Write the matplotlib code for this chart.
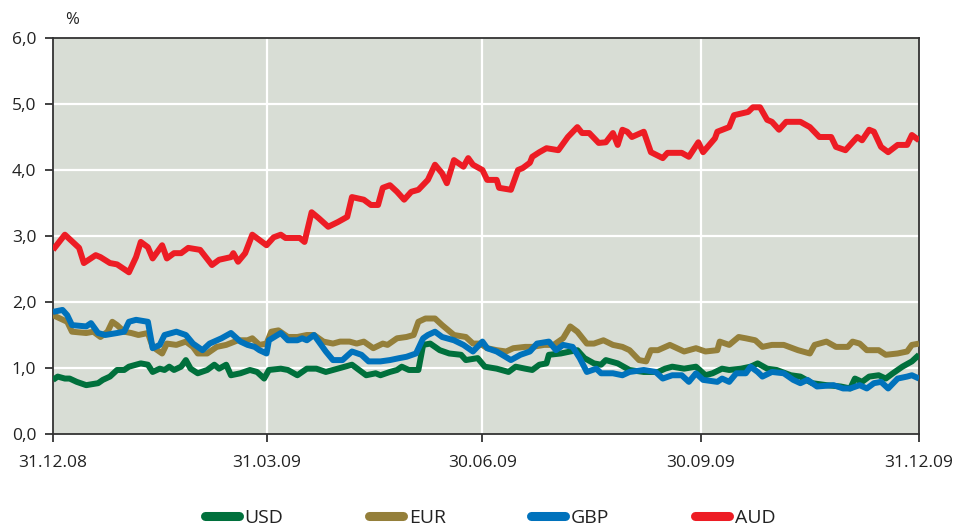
import numpy as np
import matplotlib
matplotlib.use("Agg")
import matplotlib.pyplot as plt

plt.rcParams['font.family'] = ['Open Sans', 'DejaVu Sans']

# ---- data (days after 31.12.2008, yields in %) ----
start = np.datetime64('2008-12-31')

usd_days = [0,2,5,7,10,14,19,21,24,27,30,32,37,40,42,45,47,49,51,54,56,58,61,65,68,70,73,75,79,83,
            86,89,91,96,99,103,107,111,115,120,126,132,136,138,142,145,147,150,154,156,159,163,167,172,
            174,179,182,187,192,195,199,202,205,208,209,214,218,221,224,228,231,233,238,243,249,255,258,
            261,266,271,275,278,282,285,290,294,297,301,305,311,315,320,326,332,336,338,341,344,348,351,
            354,358,362,365]
usd_vals = [0.82,0.87,0.84,0.84,0.79,0.74,0.77,0.82,0.87,0.97,0.97,1.02,1.07,1.05,0.94,0.99,0.97,1.02,
            0.97,1.02,1.12,0.99,0.92,0.97,1.05,0.99,1.05,0.89,0.92,0.97,0.94,0.84,0.97,0.99,0.97,0.89,
            0.99,0.99,0.94,0.99,1.05,0.89,0.92,0.89,0.94,0.97,1.02,0.97,0.97,1.35,1.37,1.27,1.22,1.20,
            1.12,1.15,1.02,0.99,0.94,1.02,0.99,0.97,1.05,1.07,1.20,1.22,1.25,1.27,1.15,1.07,1.05,1.12,
            1.07,0.97,0.94,0.94,0.99,1.02,0.99,1.02,0.89,0.92,0.99,0.97,0.99,1.02,1.07,0.99,0.97,0.89,
            0.87,0.77,0.74,0.72,0.69,0.84,0.79,0.87,0.89,0.84,0.92,1.02,1.10,1.20]

eur_days = [0,3,6,8,14,17,20,23,25,27,30,33,36,40,42,46,48,52,56,59,61,65,69,73,78,82,84,87,90,92,
            95,99,103,107,110,114,118,121,125,128,131,135,139,141,145,149,152,154,157,161,164,169,174,
            177,180,183,187,191,194,199,202,207,211,215,218,221,225,228,232,236,240,243,247,250,252,255,
            260,266,271,275,280,281,285,289,292,296,299,303,308,314,319,321,326,330,335,337,340,343,348,
            351,356,360,362,365]
eur_vals = [1.80,1.75,1.70,1.55,1.53,1.55,1.47,1.55,1.70,1.65,1.55,1.53,1.50,1.53,1.32,1.22,1.37,1.35,
            1.40,1.32,1.22,1.22,1.32,1.35,1.42,1.42,1.45,1.35,1.37,1.55,1.57,1.47,1.47,1.50,1.50,1.40,
            1.37,1.40,1.40,1.37,1.40,1.30,1.37,1.35,1.45,1.47,1.50,1.70,1.75,1.75,1.65,1.50,1.47,1.37,
            1.37,1.30,1.27,1.25,1.30,1.32,1.32,1.35,1.35,1.45,1.63,1.55,1.37,1.37,1.42,1.35,1.32,1.27,
            1.12,1.10,1.27,1.27,1.35,1.25,1.30,1.25,1.27,1.40,1.35,1.47,1.45,1.42,1.32,1.35,1.35,1.27,
            1.22,1.35,1.40,1.32,1.32,1.40,1.37,1.27,1.27,1.20,1.22,1.25,1.35,1.37]

gbp_days = [0,4,6,8,14,16,19,22,27,30,32,35,40,42,45,47,52,56,59,63,66,71,75,79,82,85,87,90,91,96,
            99,103,105,107,110,113,115,118,122,126,130,133,138,142,146,149,153,156,158,161,164,169,173,
            177,181,183,187,193,197,201,204,209,212,215,219,222,225,229,231,236,240,243,249,254,257,261,
            265,268,271,274,280,282,285,288,292,294,297,299,303,308,312,315,318,322,329,333,336,340,343,
            346,349,352,356,360,362,365]
gbp_vals = [1.85,1.88,1.80,1.65,1.63,1.68,1.53,1.50,1.53,1.55,1.70,1.73,1.70,1.30,1.35,1.50,1.55,1.50,
            1.37,1.27,1.37,1.45,1.53,1.40,1.35,1.32,1.27,1.22,1.42,1.53,1.42,1.42,1.45,1.42,1.50,1.35,
            1.25,1.12,1.12,1.25,1.20,1.10,1.10,1.12,1.15,1.17,1.22,1.45,1.50,1.55,1.47,1.42,1.35,1.25,
            1.40,1.30,1.25,1.12,1.20,1.25,1.37,1.40,1.27,1.35,1.32,1.15,0.94,0.99,0.92,0.92,0.89,0.94,
            0.97,0.94,0.84,0.89,0.89,0.79,0.92,0.82,0.79,0.84,0.79,0.92,0.92,1.02,0.94,0.87,0.94,0.92,
            0.82,0.77,0.82,0.72,0.74,0.69,0.69,0.74,0.69,0.77,0.79,0.69,0.84,0.87,0.89,0.84]

aud_days = [0,5,11,13,18,20,24,27,32,35,37,40,42,46,48,51,54,57,62,67,70,75,76,78,81,84,90,93,96,98,
            104,106,109,112,116,120,124,126,131,134,137,139,142,145,148,151,154,158,161,164,166,169,173,
            175,177,181,183,187,188,193,196,198,201,202,205,208,213,217,221,223,226,230,233,236,238,240,
            242,244,249,252,257,259,265,268,272,274,279,280,285,287,293,295,298,301,303,306,309,315,319,
            323,328,330,334,339,341,344,346,349,352,356,360,362,365]
aud_vals = [2.79,3.02,2.82,2.59,2.71,2.68,2.59,2.57,2.45,2.68,2.91,2.83,2.66,2.86,2.66,2.74,2.74,2.82,
            2.79,2.56,2.64,2.68,2.74,2.61,2.74,3.02,2.86,2.98,3.02,2.97,2.97,2.91,3.36,3.27,3.14,3.21,
            3.29,3.59,3.55,3.47,3.47,3.73,3.77,3.67,3.55,3.67,3.70,3.85,4.08,3.95,3.80,4.15,4.05,4.18,
            4.08,4.00,3.85,3.85,3.73,3.70,4.00,4.03,4.11,4.20,4.27,4.33,4.30,4.50,4.65,4.56,4.56,4.41,
            4.42,4.56,4.38,4.61,4.58,4.50,4.58,4.27,4.18,4.26,4.26,4.20,4.42,4.27,4.48,4.58,4.65,4.83,
            4.88,4.95,4.95,4.76,4.73,4.61,4.73,4.73,4.65,4.50,4.50,4.35,4.30,4.50,4.45,4.61,4.58,4.35,
            4.27,4.38,4.38,4.53,4.45]

series_names = ['USD', 'EUR', 'GBP', 'AUD']
series_colors = ['#00703c', '#947f3a', '#0072bc', '#ed1c24']
series_days = [usd_days, eur_days, gbp_days, aud_days]
series_vals = [usd_vals, eur_vals, gbp_vals, aud_vals]

tick_dates = ['2008-12-31', '2009-03-31', '2009-06-30', '2009-09-30', '2009-12-31']
tick_labels = ['31.12.08', '31.03.09', '30.06.09', '30.09.09', '31.12.09']
y_ticks = [0, 1, 2, 3, 4, 5, 6]
y_labels = ['0,0', '1,0', '2,0', '3,0', '4,0', '5,0', '6,0']

# ---- figure ----
fig = plt.figure(figsize=(9.61, 5.30), dpi=100)
ax = fig.add_axes([53/961, 96/530, 866/961, 396/530])
ax.set_facecolor('#d8ddd5')

text_color = '#222222'
tick_dt = np.array(tick_dates, dtype='datetime64[D]')

# grid
for yv in y_ticks[1:-1]:
    ax.axhline(yv, color='white', lw=1.6, zorder=1)
for td in tick_dt[1:-1]:
    ax.axvline(td, color='white', lw=1.6, zorder=1)

handles = []
for name, col, d, v in zip(series_names, series_colors, series_days, series_vals):
    dates = start + np.array(d, dtype='timedelta64[D]')
    ln, = ax.plot(dates, v, color=col, lw=4.3, solid_joinstyle='round',
                  solid_capstyle='butt', label=name, zorder=3)
    handles.append(ln)

ax.set_xlim(tick_dt[0], tick_dt[-1])
ax.set_ylim(0, 6)
ax.set_xticks(tick_dt)
ax.set_xticklabels(tick_labels)
ax.set_yticks(y_ticks)
ax.set_yticklabels(y_labels)

ax.tick_params(axis='both', direction='out', length=6, width=1.3, color='#333333',
               labelsize=12.5, labelcolor=text_color)
ax.tick_params(axis='x', pad=9)
ax.tick_params(axis='y', pad=6)

for s in ax.spines.values():
    s.set_color('#333333')
    s.set_linewidth(1.3)

fig.text(72/961, 1 - 20/530, '%', ha='center', va='center', fontsize=12, color=text_color)

leg = fig.legend(handles=handles, loc='center', bbox_to_anchor=(490/961, 12/530), ncol=4,
                 frameon=False, fontsize=14, handlelength=1.75, handletextpad=0.3,
                 columnspacing=4.4, labelcolor=text_color, borderpad=0.0)
for lh in leg.get_lines():
    lh.set_linewidth(6.5)
    lh.set_solid_capstyle('round')

fig.savefig('out.png', dpi=100)
